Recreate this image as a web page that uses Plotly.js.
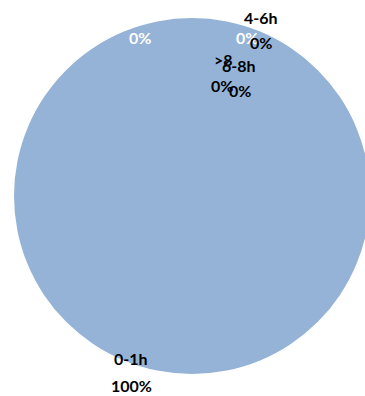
<!DOCTYPE html>
<html>
<head>
<meta charset="utf-8">
<script src="https://cdn.plot.ly/plotly-3.0.1.min.js"></script>
<style>
html,body{margin:0;padding:0;overflow:hidden;background:#fff;}
#chart{width:372px;height:396px;}
</style>
</head>
<body>
<div id="chart"></div>
<script>
// Data
const categories = ["0-1h", "1-2h", "2-4h", "4-6h", "6-8h", ">8"];
const percents = [100, 0, 0, 0, 0, 0];
// Label display: whether the category name is shown, and text colour
const showName = [true, false, false, true, true, true];
const labelColors = ["#000000", "#ffffff", "#ffffff", "#000000", "#000000", "#000000"];

// Layout (pixel positions of the data labels, as placed in the original)
const W = 372, H = 396;
const namePos = [[131, 358], null, null, [261, 17], [239, 66], [223, 60]];
const pctPos = [[131, 385], [140, 37], [247, 37], [261, 42], [240, 91], [222, 85]];

const px = x => x / W;
const py = y => 1 - y / H;

const annotations = [];
// draw in an order so that overlaps look like the original
const order = [1, 2, 3, 5, 4, 0];
order.forEach(i => {
  const font = {family: "Lato, 'Open Sans', sans-serif", size: 16, color: labelColors[i], weight: 700};
  if (showName[i] && namePos[i]) {
    annotations.push({xref: "paper", yref: "paper", x: px(namePos[i][0]), y: py(namePos[i][1]),
      text: "<b>" + categories[i] + "</b>", showarrow: false, xanchor: "center", yanchor: "middle", font: font});
  }
  annotations.push({xref: "paper", yref: "paper", x: px(pctPos[i][0]), y: py(pctPos[i][1]),
    text: "<b>" + percents[i] + "%</b>", showarrow: false, xanchor: "center", yanchor: "middle", font: font});
});

const trace = {
  type: "pie",
  labels: categories,
  values: percents,
  sort: false,
  direction: "clockwise",
  rotation: 0,
  textinfo: "none",
  hoverinfo: "label+percent",
  marker: {colors: ["#95B3D7", "#C0504D", "#9BBB59", "#8064A2", "#4BACC6", "#F79646"], line: {width: 0}},
  domain: {x: [14 / W, 370 / W], y: [1 - 374 / H, 1 - 18 / H]},
  showlegend: false
};

Plotly.newPlot("chart", [trace], {
  width: W, height: H,
  margin: {l: 0, r: 0, t: 0, b: 0},
  paper_bgcolor: "#ffffff",
  showlegend: false,
  annotations: annotations
}, {displayModeBar: false, staticPlot: true});
</script>
</body>
</html>
